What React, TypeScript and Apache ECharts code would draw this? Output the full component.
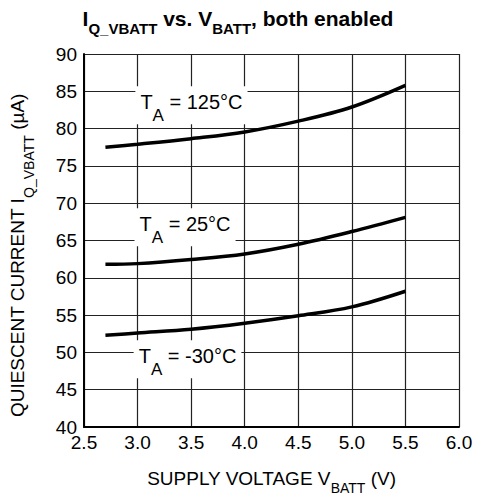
import React, { useEffect, useRef } from "react";
import * as echarts from "echarts";

const VOLTAGE = [2.7, 3.0, 3.5, 4.0, 4.5, 5.0, 5.5];
const I_125C = [77.5, 77.9, 78.65, 79.55, 81.0, 82.9, 85.8];
const I_25C = [61.8, 61.9, 62.45, 63.2, 64.5, 66.2, 68.1];
const I_M30C = [52.3, 52.6, 53.1, 53.9, 54.9, 56.1, 58.2];

const SERIES_NAMES = ["125°C", "25°C", "-30°C"];
const LABEL_COORDS: [number, number][] = [
  [3.503, 83.12],
  [3.443, 66.77],
  [3.466, 49.07],
];

const X_MIN = 2.5, X_MAX = 6.0, X_STEP = 0.5;
const Y_MIN = 40, Y_MAX = 90, Y_STEP = 5;

const FONT = "'Liberation Sans', Arial, Helvetica, sans-serif";

export default function App() {
  const ref = useRef<HTMLDivElement>(null);
  useEffect(() => {
    if (!ref.current) return;
    const chart = echarts.init(ref.current, undefined, { renderer: "svg" });
    const allData = [I_125C, I_25C, I_M30C];
    const labelRich = {
      t: { fontSize: 20, fontFamily: FONT, color: "#000", lineHeight: 18, verticalAlign: "top" },
      s: { fontSize: 17, fontFamily: FONT, color: "#000", lineHeight: 32, verticalAlign: "bottom" },
    };
    const series = allData.map((vals, i) => ({
      type: "line",
      name: SERIES_NAMES[i],
      data: VOLTAGE.map((v, j) => [v, vals[j]]),
      smooth: 0.35,
      symbol: "none",
      lineStyle: { color: "#000", width: 3.5 },
      markPoint: {
        symbol: "rect",
        symbolSize: 1,
        itemStyle: { color: "rgba(0,0,0,0)" },
        label: {
          show: true,
          position: "inside",
          formatter: `{t|T}{s|A}{t| = ${SERIES_NAMES[i]}}`,
          backgroundColor: "#fff",
          padding: [6, 5, 0, 5],
          rich: labelRich,
        },
        data: [{ coord: LABEL_COORDS[i] }],
      },
    }));
    chart.setOption({
      animation: false,
      backgroundColor: "#fff",
      title: {
        text: "{a|I}{b|Q_VBATT}{a| vs. V}{b|BATT}{a|, both enabled}",
        left: 238,
        textAlign: "center",
        top: 8,
        padding: 0,
        textStyle: {
          rich: {
            a: { fontSize: 21, fontWeight: "bold", fontFamily: FONT, color: "#000", lineHeight: 20, verticalAlign: "top" },
            b: { fontSize: 15, fontWeight: "bold", fontFamily: FONT, color: "#000", lineHeight: 28, verticalAlign: "bottom" },
          },
        },
      },
      grid: { left: 84, right: 28, top: 54, bottom: 68, outerBoundsMode: "none", containLabel: false },
      xAxis: {
        type: "value",
        min: X_MIN,
        max: X_MAX,
        interval: X_STEP,
        name: "{m|SUPPLY VOLTAGE V}{s|BATT}{m| (V)}",
        nameLocation: "middle",
        nameGap: 42,
        nameTextStyle: {
          rich: {
            m: { fontSize: 19, fontFamily: FONT, color: "#000", lineHeight: 18, verticalAlign: "top" },
            s: { fontSize: 14, fontFamily: FONT, color: "#000", lineHeight: 26, verticalAlign: "bottom" },
          },
        },
        axisLine: { show: true, lineStyle: { color: "#000", width: 2 } },
        axisTick: { show: false },
        axisLabel: {
          fontSize: 19,
          fontFamily: FONT,
          color: "#000",
          margin: 6,
          formatter: (v: number) => v.toFixed(1),
        },
        splitLine: { show: true, lineStyle: { color: "#222", width: 1.2 } },
      },
      yAxis: {
        type: "value",
        min: Y_MIN,
        max: Y_MAX,
        interval: Y_STEP,
        name: "{m|QUIESCENT CURRENT I}{s|Q_VBATT}{m| (µA)}",
        nameLocation: "middle",
        nameGap: 48,
        nameTextStyle: {
          padding: [0, 30, 0, 0],
          rich: {
            m: { fontSize: 19, fontFamily: FONT, color: "#000", lineHeight: 18, verticalAlign: "top" },
            s: { fontSize: 14, fontFamily: FONT, color: "#000", lineHeight: 28, verticalAlign: "bottom" },
          },
        },
        axisLine: { show: true, lineStyle: { color: "#000", width: 2 } },
        axisTick: { show: false },
        axisLabel: { fontSize: 19, fontFamily: FONT, color: "#000", margin: 7 },
        splitLine: { show: true, lineStyle: { color: "#222", width: 1.2 } },
      },
      series,
    });
    return () => chart.dispose();
  }, []);
  return (
    <div
      ref={ref}
      style={{ position: "fixed", left: 0, top: 0, width: 487, height: 495 }}
    />
  );
}
